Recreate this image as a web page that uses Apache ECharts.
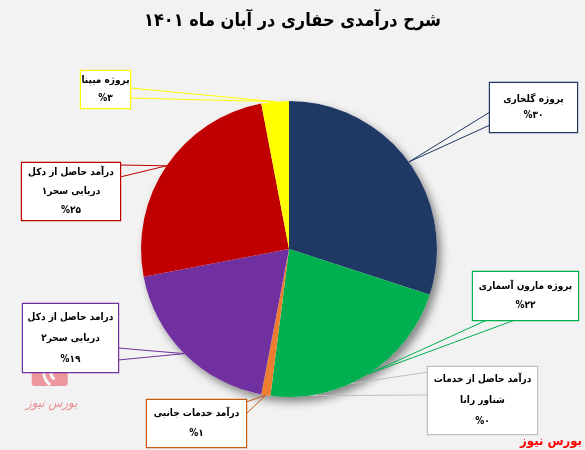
<!DOCTYPE html>
<html>
<head>
<meta charset="utf-8">
<script src="https://cdn.jsdelivr.net/npm/echarts@6/dist/echarts.min.js"></script>
<style>
  html, body { margin: 0; padding: 0; background: #F2F2F2; }
  #chart { width: 585px; height: 450px; }
</style>
</head>
<body>
<div id="chart"></div>
<script>
// Revenue breakdown, clockwise from 12 o'clock
const categories = [
  'پروژه گلخاری',
  'پروژه مارون آسماری',
  'درآمد حاصل از خدمات\nشناور رانا',
  'درآمد خدمات جانبی',
  'درامد حاصل از دکل\nدریایی سحر۲',
  'درآمد حاصل از دکل\nدریایی سحر۱',
  'پروژه میپنا'
];
const shares = [30, 22, 0, 1, 19, 25, 3];
const shareLabels = ['%۳۰', '%۲۲', '%۰', '%۱', '%۱۹', '%۲۵', '%۳'];
const titleText = 'شرح درآمدی حفاری در آبان ماه ۱۴۰۱';
const sourceText = 'بورس نیوز';

const sliceColors = ['#203864', '#00B050', '#D9D9D9', '#ED7D31', '#7030A0', '#C00000', '#FFFF00'];
const calloutColors = ['#203864', '#00B050', '#BFBFBF', '#C55A11', '#7030A0', '#C00000', '#FFFF00'];

// Callout boxes: top-left corner, size, line height, and the edge the pointer leaves from
const calloutBoxes = [
  { x: 490, y: 83,  w: 87,  h: 49, lh: 16, side: 'left',   a: 29, b: 42 },
  { x: 473, y: 272, w: 105, h: 48, lh: 19, side: 'bottom', a: 14, b: 42 },
  { x: 428, y: 367, w: 109, h: 67, lh: 21, side: 'left',   a: 5,  b: 28 },
  { x: 147, y: 400, w: 99,  h: 47, lh: 20, side: 'right',  a: 2,  b: 14 },
  { x: 23,  y: 304, w: 95,  h: 68, lh: 21, side: 'right',  a: 44, b: 56 },
  { x: 22,  y: 163, w: 98,  h: 57, lh: 19, side: 'right',  a: 2,  b: 14 },
  { x: 81,  y: 71,  w: 49,  h: 37, lh: 18, side: 'right',  a: 17, b: 27 }
];

const FONT = '"DejaVu Sans Condensed", "DejaVu Sans", sans-serif';
const PIE_CENTER = [289, 249];
const PIE_RADIUS = 148;

function edgePoint(box, off) {
  switch (box.side) {
    case 'left':   return [box.x, box.y + off];
    case 'right':  return [box.x + box.w, box.y + off];
    case 'top':    return [box.x + off, box.y];
    default:       return [box.x + off, box.y + box.h];
  }
}

const pieData = categories.map(function (name, i) {
  const box = calloutBoxes[i];
  const lines = name.split('\n').length + 1;
  const padV = Math.max(0, (box.h - lines * box.lh) / 2);
  return {
    name: name,
    value: shares[i],
    itemStyle: { color: sliceColors[i] },
    label: {
      formatter: name + '\n' + shareLabels[i],
      backgroundColor: '#FFFFFF',
      borderColor: calloutColors[i],
      borderWidth: 1.2,
      lineHeight: box.lh,
      padding: [padV, 2, padV, 2]
    },
    labelLine: { lineStyle: { color: calloutColors[i], width: 1 } }
  };
});

const total = shares.reduce(function (s, v) { return s + v; }, 0);

const chart = echarts.init(document.getElementById('chart'), null, { renderer: 'canvas' });

chart.setOption({
  backgroundColor: '#F2F2F2',
  animation: false,
  title: {
    text: titleText,
    left: 'center',
    top: 7,
    textStyle: { fontFamily: FONT, fontSize: 18, fontWeight: 'bold', color: '#000000' }
  },
  graphic: [
    {
      type: 'group', left: 26, top: 352, z: 0, silent: true,
      children: [
        { type: 'rect', shape: { x: 0, y: 0, width: 36, height: 34, r: 3 }, style: { fill: 'rgba(232,120,128,0.75)' } },
        { type: 'arc', shape: { cx: 28, cy: 20, r: 16, startAngle: Math.PI * 0.7, endAngle: Math.PI * 1.35 }, style: { stroke: '#F6F6F6', lineWidth: 3, fill: null } },
        { type: 'arc', shape: { cx: 28, cy: 20, r: 9, startAngle: Math.PI * 0.7, endAngle: Math.PI * 1.4 }, style: { stroke: '#F6F6F6', lineWidth: 3, fill: null } },
        { type: 'text', x: 20, y: 52, style: { text: sourceText, fill: 'rgba(232,120,128,0.8)', font: 'italic 13px ' + FONT, align: 'center', verticalAlign: 'middle' } }
      ]
    },
    {
      type: 'text', x: 582, y: 442, z: 10, silent: true,
      style: { text: sourceText, fill: '#FF0000', font: 'bold 13px ' + FONT, align: 'right', verticalAlign: 'middle' }
    }
  ],
  series: [
    {
      // soft drop shadow under the whole disc
      type: 'pie',
      silent: true,
      center: PIE_CENTER,
      radius: PIE_RADIUS,
      z: 1,
      label: { show: false },
      labelLine: { show: false },
      data: [{ value: total, itemStyle: { color: '#FFFFFF', shadowBlur: 8, shadowOffsetX: 4, shadowOffsetY: 5, shadowColor: 'rgba(0,0,0,0.45)' } }]
    },
    {
      type: 'pie',
      center: PIE_CENTER,
      radius: PIE_RADIUS,
      startAngle: 90,
      clockwise: true,
      avoidLabelOverlap: false,
      minShowLabelAngle: 0,
      z: 2,
      label: {
        show: true,
        position: 'outside',
        color: '#000000',
        fontFamily: FONT,
        fontSize: 10,
        fontWeight: 'bold',
        overflow: 'none'
      },
      labelLine: { show: true, smooth: false },
      labelLayout: function (params) {
        const box = calloutBoxes[params.dataIndex];
        const pts = params.labelLinePoints;
        const apex = pts ? pts[0] : [PIE_CENTER[0], PIE_CENTER[1]];
        return {
          x: box.x + box.w / 2,
          y: box.y,
          align: 'center',
          verticalAlign: 'top',
          width: box.w - 4,
          labelLinePoints: [edgePoint(box, box.a), apex, edgePoint(box, box.b)]
        };
      },
      data: pieData
    }
  ]
});
</script>
</body>
</html>
